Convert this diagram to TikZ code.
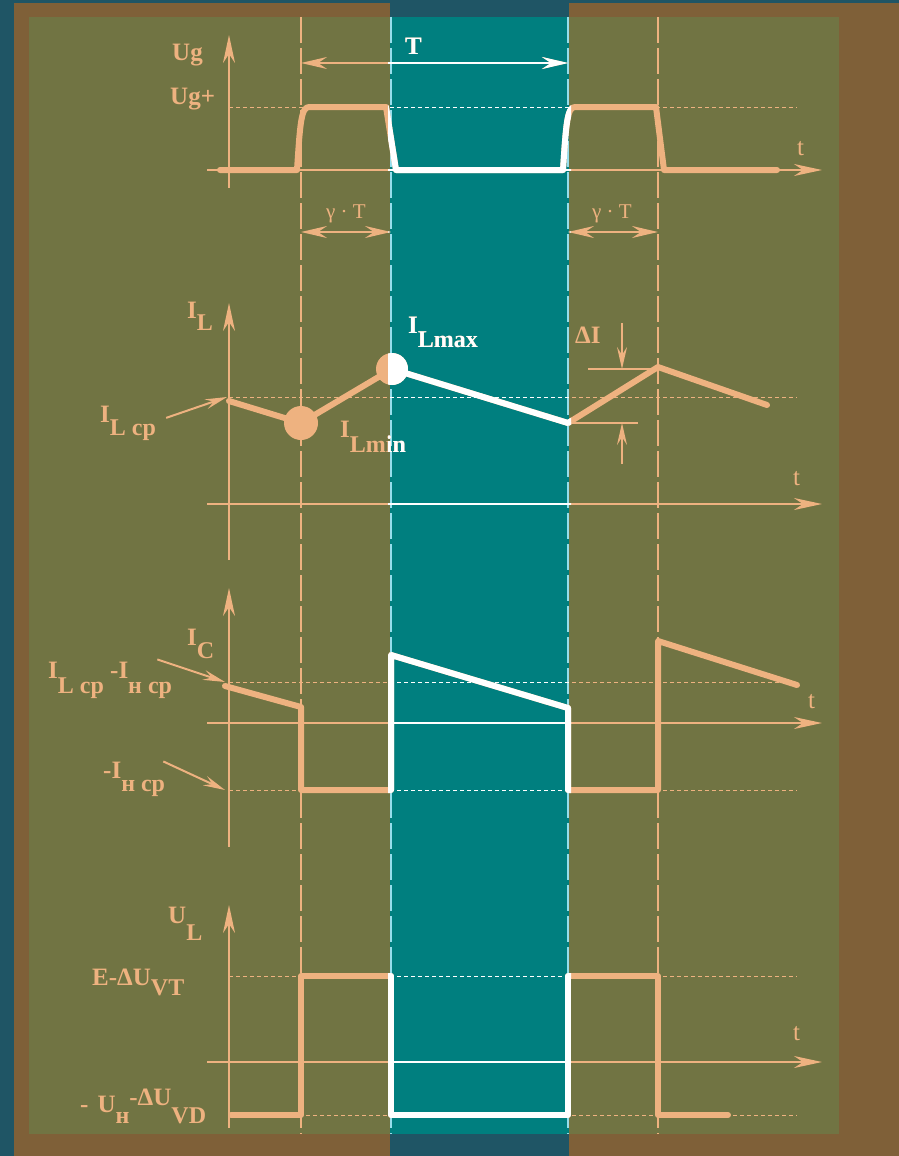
\documentclass[tikz,border=0pt]{standalone}
\usepackage{fontspec}
\setmainfont{Liberation Serif}
\usetikzlibrary{arrows.meta}

\definecolor{deepsea}{RGB}{31,85,101}
\definecolor{bark}{RGB}{127,96,56}
\definecolor{moss}{RGB}{113,116,67}
\definecolor{lagoon}{RGB}{0,127,127}
\definecolor{peach}{RGB}{238,178,128}
\definecolor{ice}{RGB}{150,222,236}

\newcommand\lowidx[2][13pt]{\raisebox{-#1}{\fontsize{24}{24}\selectfont #2}}

\tikzset{
  wave/.style={line width=6pt, line join=round, line cap=round},
  axis/.style={line width=2pt, -{Stealth[length=28pt,width=12pt,inset=9pt]}},
  span/.style={line width=2.2pt, {Stealth[length=26pt,width=12pt,inset=9pt]}-{Stealth[length=26pt,width=12pt,inset=9pt]}},
  pointer/.style={line width=2pt, -{Stealth[length=22pt,width=10pt,inset=8pt]}},
  level/.style={line width=1pt, dash pattern=on 4pt off 3pt},
  tick/.style={line width=1.5pt, dash pattern=on 26pt off 5pt},
  lbl/.style={font=\fontsize{25}{25}\selectfont\bfseries, inner sep=0pt, anchor=base west},
  tlbl/.style={font=\fontsize{25}{25}\selectfont, inner sep=0pt, anchor=base west},
  glbl/.style={font=\fontsize{21}{21}\selectfont, inner sep=0pt, anchor=base west},
}

\begin{document}
\begin{tikzpicture}[x=1pt,y=-1pt]
\useasboundingbox (0,0) rectangle (899,1156);
\fill[deepsea] (0,0) rectangle (899,1156);
\fill[bark] (14,3) rectangle (899,1156);
\fill[moss] (29,17) rectangle (839,1134);
\fill[deepsea] (390,0) rectangle (569,17);
\fill[deepsea] (390,1134) rectangle (569,1156);
\fill[lagoon] (390,17) rectangle (569,1134);

\draw[tick,peach] (301,17) -- (301,1134);
\draw[tick,peach] (658,17) -- (658,1134);
\draw[tick,ice] (391,17) -- (391,1134);
\draw[tick,ice] (568,17) -- (568,1134);

\foreach \ink/\xa/\xb in {peach/0/899, white/388/571} {
\begin{scope}
\clip (\xa,0) rectangle (\xb,1156);

\draw[axis,\ink] (229,188) -- (229,35);
\draw[axis,\ink] (207,170) -- (822,170);
\draw[level,\ink] (229,107) -- (797,107);
\draw[wave,\ink] (220,170) -- (297,170) .. controls (300,125) and (301,107) .. (309,107) -- (386,107) -- (396,170) -- (563,170) .. controls (566,125) and (567,107) .. (575,107) -- (656,107) -- (664,170) -- (777,170);
\draw[span,\ink] (301,63) -- (568,63);
\draw[span,\ink] (301,232) -- (391,232);
\draw[span,\ink] (568,232) -- (658,232);
\node[lbl,\ink] (ug) at (172,60) {Ug};
\node[lbl,\ink] (ugplus) at (170,104) {Ug+};
\node[lbl,\ink] (period) at (405,55) {T};
\node[tlbl,\ink] (t1) at (797,155) {t};
\node[glbl,\ink] (duty1) at (326,218) {γ · T};
\node[glbl,\ink] (duty2) at (592,218) {γ · T};

\draw[axis,\ink] (229,560) -- (229,303);
\draw[axis,\ink] (207,504) -- (822,504);
\draw[level,\ink] (229,397) -- (797,397);
\draw[wave,\ink] (229,401) -- (301,423) -- (392,369) -- (568,423) -- (658,367) -- (767,405);
\fill[\ink] (301,423) circle (17);
\fill[\ink] (392,369) circle (16);
\draw[line width=2pt,\ink] (588,369) -- (658,369);
\draw[line width=2pt,\ink] (568,423) -- (638,423);
\node[lbl,\ink] (il) at (187,318) {I\lowidx[12pt]{L}};
\node[lbl,\ink] (ilcp) at (100,422) {I\lowidx{L ср}};
\node[lbl,\ink] (ilmin) at (340,437) {I\lowidx[15pt]{Lmin}};
\node[lbl,\ink] (ilmax) at (408,333) {I\lowidx[14pt]{Lmax}};
\node[lbl,\ink] (di) at (575,343) {ΔI};
\node[tlbl,\ink] (t2) at (793,485) {t};
\draw[pointer,\ink] (ilcp.east) ++(10,-5) -- (227,397);
\draw[pointer,\ink] (622,323) -- (622,369);
\draw[pointer,\ink] (622,464) -- (622,423);

\draw[axis,\ink] (229,847) -- (229,588);
\draw[axis,\ink] (207,723) -- (822,723);
\draw[level,\ink] (229,682) -- (797,682);
\draw[level,\ink] (229,790) -- (797,790);
\draw[wave,\ink] (225,686) -- (301,707) -- (301,790) -- (391,790) -- (391,655) -- (568,708) -- (568,790) -- (658,790) -- (658,641) -- (797,685);
\node[lbl,\ink] (ic) at (187,645) {I\lowidx{C}};
\node[lbl,\ink] (diff) at (48,678) {I\lowidx[15pt]{L ср} -I\lowidx[15pt]{н ср}};
\node[lbl,\ink] (neg) at (103,778) {-I\lowidx{н ср}};
\node[tlbl,\ink] (t3) at (808,708) {t};
\draw[pointer,\ink] (diff.north east) ++(-15,-2) -- (225,682);
\draw[pointer,\ink] (neg.north east) ++(-2,0) -- (225,790);

\draw[axis,\ink] (229,1128) -- (229,905);
\draw[axis,\ink] (207,1062) -- (822,1062);
\draw[level,\ink] (229,976) -- (797,976);
\draw[level,\ink] (229,1115) -- (797,1115);
\draw[wave,\ink] (231,1115) -- (301,1115) -- (301,976) -- (391,976) -- (391,1115) -- (568,1115) -- (568,976) -- (658,976) -- (658,1115) -- (728,1115);
\node[lbl,\ink] (ul) at (168,923) {U\lowidx[17pt]{L}};
\node[lbl,\ink] (upper) at (92,985) {E-ΔU\lowidx[10pt]{VT}};
\node[lbl,\ink] (lower) at (80,1112) {-\hspace{9pt}U\lowidx[11pt]{н}\raisebox{7pt}{-ΔU}\lowidx[11pt]{VD}};
\node[tlbl,\ink] (t4) at (793,1040) {t};
\end{scope}
}
\end{tikzpicture}
\end{document}
